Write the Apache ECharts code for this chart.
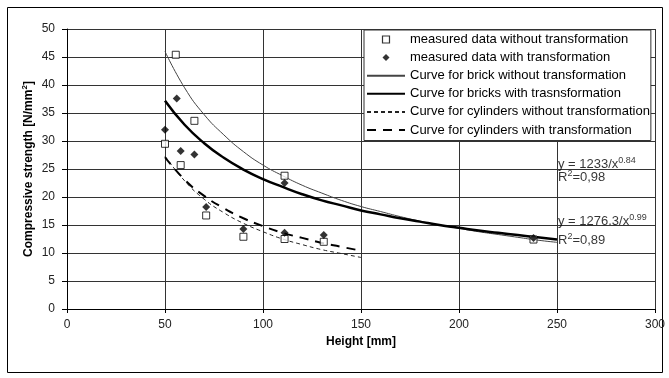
<!DOCTYPE html>
<html><head><meta charset="utf-8">
<script src="https://cdn.jsdelivr.net/npm/echarts@6/dist/echarts.min.js"></script>
<style>html,body{margin:0;padding:0;background:#fff}#c{width:669px;height:378px}</style>
</head><body><div id="c"></div>
<script>
// ---- data ----
const seriesNames = [
  'measured data without transformation',
  'measured data with transformation',
  'Curve for brick without transformation',
  'Curve for bricks with trasnsformation',
  'Curve for cylinders without transformation',
  'Curve for cylinders with transformation'
];
const squareHeight   = [50, 55.5, 58, 65, 71, 90, 111, 111, 131, 238];
const squareStrength = [29.5, 45.4, 25.7, 33.6, 16.7, 12.9, 23.8, 12.5, 12.0, 12.4];
const diamondHeight   = [50, 56, 58, 65, 71, 90, 111, 111, 131, 238];
const diamondStrength = [32.0, 37.6, 28.2, 27.6, 18.2, 14.3, 22.5, 13.6, 13.2, 12.7];
const brickX = [50,60,70,80,90,100,110,120,130,140,150,160,170,180,190,200,210,220,230,240,250];
const brickNoTrans = [46.0,39.5,34.7,31.1,28.1,25.7,23.8,22.1,20.7,19.4,18.3,17.4,16.5,15.7,15.0,14.4,13.8,13.3,12.8,12.3,11.9];
const brickTrans   = [37.2,32.9,29.6,27.0,24.9,23.2,21.8,20.5,19.4,18.5,17.6,16.9,16.2,15.6,15.0,14.5,14.0,13.6,13.2,12.8,12.4];
const cylX = [50,60,70,80,90,100,110,120,130,140,150];
const cylNoTrans = [27.3,22.9,19.6,17.2,15.3,13.8,12.5,11.5,10.6,9.9,9.2];
const cylTrans   = [27.1,23.1,20.2,18.0,16.2,14.8,13.6,12.7,11.8,11.1,10.4];
const eqX = [250, 250, 250, 250];
const eqY = [25.8, 23.5, 15.6, 12.3];
const eqText = ['y = 1233/x{s|0.84}', 'R{s|2}=0,98', 'y = 1276.3/x{s|0.99}', 'R{s|2}=0,89'];
const xTicks = [0, 50, 100, 150, 200, 250, 300];
const yTicks = [0, 5, 10, 15, 20, 25, 30, 35, 40, 45, 50];

const FONT = '"Liberation Sans", Arial, sans-serif';
const zip = (a, b) => a.map((v, i) => [v, b[i]]);

const chart = echarts.init(document.getElementById('c'), null, {renderer: 'canvas'});
chart.setOption({
  animation: false,
  textStyle: {fontFamily: FONT},
  grid: {left: 67, right: 14, top: 29, bottom: 69, containLabel: false},
  xAxis: {
    type: 'value', min: xTicks[0], max: xTicks[xTicks.length - 1], interval: 50,
    name: 'Height [mm]', nameLocation: 'middle', nameGap: 23,
    nameTextStyle: {fontFamily: FONT, fontWeight: 'bold', fontSize: 12, color: '#000'},
    axisLine: {show: true, onZero: false, lineStyle: {color: '#000', width: 1}},
    axisTick: {show: true, inside: false, length: 4, lineStyle: {color: '#000'}},
    axisLabel: {fontFamily: FONT, fontSize: 12, color: '#222', margin: 10},
    splitLine: {show: true, lineStyle: {color: '#333', width: 1}}
  },
  yAxis: {
    type: 'value', min: yTicks[0], max: yTicks[yTicks.length - 1], interval: 5,
    name: 'Compressive strength [N/mm{s|2}]', nameLocation: 'middle', nameGap: 31, nameRotate: 90,
    nameMoveOverlap: false,
    nameTextStyle: {fontFamily: FONT, fontWeight: 'bold', fontSize: 12, color: '#000',
      rich: {s: {fontFamily: FONT, fontWeight: 'bold', fontSize: 8, color: '#000', padding: [0, 0, 7, 0]}}},
    axisLine: {show: true, onZero: false, lineStyle: {color: '#000', width: 1}},
    axisTick: {show: true, inside: false, length: 5, lineStyle: {color: '#000'}},
    axisLabel: {fontFamily: FONT, fontSize: 12, color: '#222', margin: 12},
    splitLine: {show: true, lineStyle: {color: '#333', width: 1}}
  },
  legend: {
    orient: 'vertical', left: 364, top: 30,
    data: [
      {name: seriesNames[0], icon: 'path://M0,0H10V10H0Z', itemStyle: {borderWidth: 1.2}},
      {name: seriesNames[1], icon: 'path://M5,0L10,5L5,10L0,5Z'},
      {name: seriesNames[2], itemStyle: {opacity: 0}},
      {name: seriesNames[3], itemStyle: {opacity: 0}},
      {name: seriesNames[4], itemStyle: {opacity: 0}},
      {name: seriesNames[5], itemStyle: {opacity: 0}}
    ],
    itemWidth: 38, itemHeight: 7, itemGap: 5.1,
    padding: [3, 1, 4, 2],
    symbolKeepAspect: true,
    backgroundColor: '#fff', borderColor: '#333', borderWidth: 1,
    textStyle: {fontFamily: FONT, fontSize: 13, color: '#000', lineHeight: 13},
    selectedMode: false
  },
  graphic: [{
    type: 'rect', silent: true, z: -10,
    shape: {x: 7.5, y: 7.5, width: 655, height: 365},
    style: {fill: 'none', stroke: '#000', lineWidth: 1}
  }],
  series: [
    {name: seriesNames[0], type: 'scatter', data: zip(squareHeight, squareStrength),
     symbol: 'rect', symbolSize: 7, z: 5,
     itemStyle: {color: '#fff', borderColor: '#000', borderWidth: 1}},
    {name: seriesNames[1], type: 'scatter', data: zip(diamondHeight, diamondStrength),
     symbol: 'diamond', symbolSize: 8, z: 6,
     itemStyle: {color: '#000'}},
    {name: seriesNames[2], type: 'line', data: zip(brickX, brickNoTrans), smooth: true,
     symbol: 'none', lineStyle: {color: '#444', width: 1}},
    {name: seriesNames[3], type: 'line', data: zip(brickX, brickTrans), smooth: true,
     symbol: 'none', lineStyle: {color: '#000', width: 2.5}},
    {name: seriesNames[4], type: 'line', data: zip(cylX, cylNoTrans), smooth: true,
     symbol: 'none', lineStyle: {color: '#222', width: 1, type: [4, 3]}},
    {name: seriesNames[5], type: 'line', data: zip(cylX, cylTrans), smooth: true,
     symbol: 'none', lineStyle: {color: '#000', width: 2, type: [9, 7]}},
    {name: 'eq', type: 'scatter', data: zip(eqX, eqY), symbolSize: 0, silent: true, z: 8,
     label: {show: true, position: 'right', distance: 1,
       formatter: p => eqText[p.dataIndex],
       fontFamily: FONT, fontSize: 13, color: '#000',
       rich: {s: {fontFamily: FONT, fontSize: 9, color: '#000', padding: [0, 0, 8, 0]}}}}
  ]
});
</script></body></html>
